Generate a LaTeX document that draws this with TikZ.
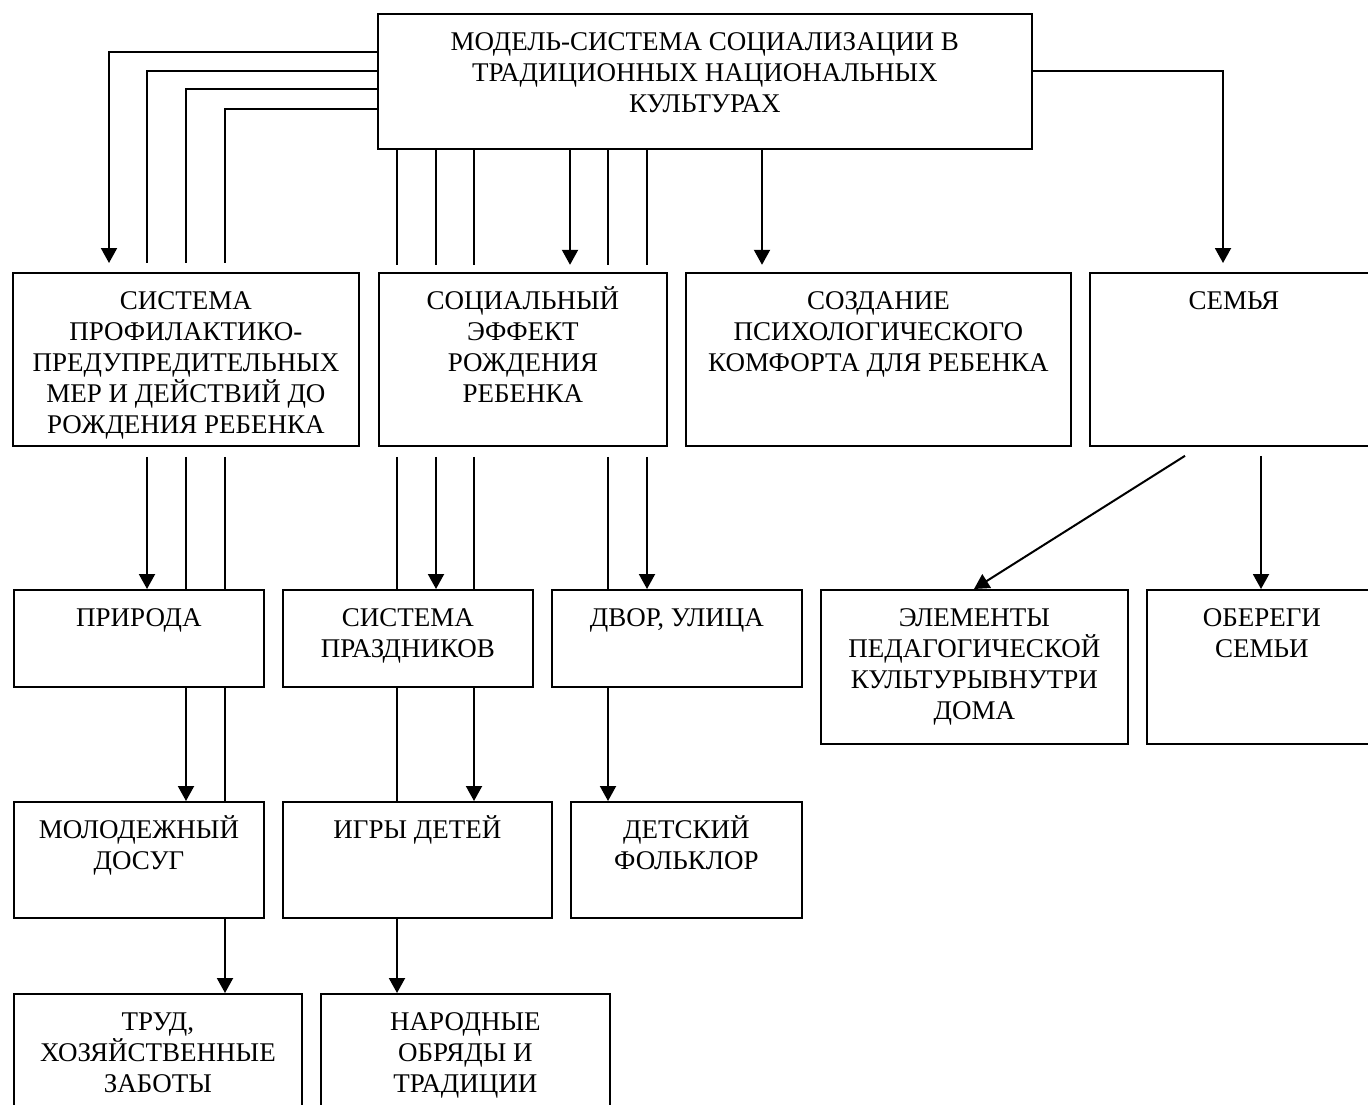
\documentclass[tikz,border=0pt]{standalone}
\usepackage{fontspec}
\setmainfont{Liberation Serif}
\usetikzlibrary{arrows.meta,calc}

\newcommand{\tekst}[3]{\parbox[t][#2][t]{#1}{\centering\rule{0pt}{18.5pt}#3}}

\begin{document}
\begin{tikzpicture}[x=1pt,y=-1pt,
  blok/.style={draw, line width=0.9pt, anchor=north west, inner sep=0pt,
    font=\fontsize{13.5pt}{15.4pt}\selectfont},
  liniya/.style={line width=1pt},
  strelka/.style={liniya, -{Triangle[length=7.5pt,width=8pt]}}]
\useasboundingbox (0,0) rectangle (684,552);
\clip (0,0) rectangle (684,552);

% top
\node[blok] (model) at (188.5,6.5) {\tekst{327pt}{67.5pt}{МОДЕЛЬ-СИСТЕМА СОЦИАЛИЗАЦИИ В\\ТРАДИЦИОННЫХ НАЦИОНАЛЬНЫХ\\КУЛЬТУРАХ}};

% first row
\node[blok] (profil) at (6,136) {\tekst{173pt}{86.5pt}{СИСТЕМА\\ПРОФИЛАКТИКО-\\ПРЕДУПРЕДИТЕЛЬНЫХ\\МЕР И ДЕЙСТВИЙ ДО\\РОЖДЕНИЯ РЕБЕНКА}};
\node[blok] (effekt) at (189,136) {\tekst{144pt}{86.5pt}{СОЦИАЛЬНЫЙ\\ЭФФЕКТ\\РОЖДЕНИЯ\\РЕБЕНКА}};
\node[blok] (komfort) at (342.5,136) {\tekst{192.5pt}{86.5pt}{СОЗДАНИЕ\\ПСИХОЛОГИЧЕСКОГО\\КОМФОРТА ДЛЯ РЕБЕНКА}};
\node[blok] (semya) at (544.5,136) {\tekst{144pt}{86.5pt}{СЕМЬЯ}};

% second row
\node[blok] (priroda) at (6.5,294.5) {\tekst{125pt}{48.5pt}{ПРИРОДА}};
\node[blok] (prazdniki) at (141,294.5) {\tekst{125pt}{48.5pt}{СИСТЕМА\\ПРАЗДНИКОВ}};
\node[blok] (dvor) at (275.5,294.5) {\tekst{125pt}{48.5pt}{ДВОР, УЛИЦА}};
\node[blok] (elementy) at (410,294.5) {\tekst{153.5pt}{77pt}{ЭЛЕМЕНТЫ\\ПЕДАГОГИЧЕСКОЙ\\КУЛЬТУРЫВНУТРИ\\ДОМА}};
\node[blok] (oberegi) at (573,294.5) {\tekst{115pt}{77pt}{ОБЕРЕГИ\\СЕМЬИ}};

% third row
\node[blok] (dosug) at (6.5,400.5) {\tekst{125pt}{58pt}{МОЛОДЕЖНЫЙ\\ДОСУГ}};
\node[blok] (igry) at (141,400.5) {\tekst{134.5pt}{58pt}{ИГРЫ ДЕТЕЙ}};
\node[blok] (folklor) at (285,400.5) {\tekst{115.5pt}{58pt}{ДЕТСКИЙ\\ФОЛЬКЛОР}};

% fourth row
\node[blok] (trud) at (6.5,496.5) {\tekst{144pt}{70pt}{ТРУД,\\ХОЗЯЙСТВЕННЫЕ\\ЗАБОТЫ}};
\node[blok] (obryady) at (160,496.5) {\tekst{144.5pt}{70pt}{НАРОДНЫЕ\\ОБРЯДЫ И\\ТРАДИЦИИ}};

% from the top box
\draw[strelka] ($(model.north west)+(0,19.5)$) -| ($(profil.north west)+(48.5,-4.5)$);
\draw[liniya] ($(model.north west)+(0,29)$) -| ($(profil.north west)+(67.5,-4.5)$);
\draw[liniya] ($(model.north west)+(0,38)$) -| ($(profil.north west)+(87,-4.5)$);
\draw[liniya] ($(model.north west)+(0,48)$) -| ($(profil.north west)+(106.5,-4.5)$);
\draw[liniya] ($(model.south west)+(10,0)$) -- +(0,57.5);
\draw[liniya] ($(model.south west)+(29.5,0)$) -- +(0,57.5);
\draw[liniya] ($(model.south west)+(48.5,0)$) -- +(0,57.5);
\draw[strelka] ($(model.south west)+(96.5,0)$) -- +(0,57.5);
\draw[liniya] ($(model.south west)+(115.5,0)$) -- +(0,57.5);
\draw[liniya] ($(model.south west)+(135,0)$) -- +(0,57.5);
\draw[strelka] ($(model.south west)+(192.5,0)$) -- +(0,57.5);
\draw[strelka] ($(model.north east)+(0,29)$) -| ($(semya.north west)+(67,-4.5)$);

% first row to second row
\draw[strelka] ($(profil.south west)+(67.5,5)$) coordinate (p1) -- (p1 |- priroda.north);
\draw[liniya] ($(profil.south west)+(87,5)$) coordinate (p2) -- (p2 |- priroda.north);
\draw[liniya] ($(profil.south west)+(106.5,5)$) coordinate (p3) -- (p3 |- priroda.north);
\draw[liniya] ($(effekt.south west)+(9.5,5)$) coordinate (e1) -- (e1 |- prazdniki.north);
\draw[strelka] ($(effekt.south west)+(29,5)$) coordinate (e2) -- (e2 |- prazdniki.north);
\draw[liniya] ($(effekt.south west)+(48,5)$) coordinate (e3) -- (e3 |- prazdniki.north);
\draw[liniya] ($(effekt.south west)+(115,5)$) coordinate (e4) -- (e4 |- dvor.north);
\draw[strelka] ($(effekt.south west)+(134.5,5)$) coordinate (e5) -- (e5 |- dvor.north);
\draw[strelka] ($(semya.south west)+(48,4.5)$) -- ($(elementy.north west)+(77,0)$);
\draw[strelka] ($(semya.south west)+(86,4.5)$) coordinate (s1) -- (s1 |- oberegi.north);

% second row to third row
\draw[strelka] (p2 |- priroda.south) -- (p2 |- dosug.north);
\draw[liniya] (p3 |- priroda.south) -- (p3 |- dosug.north);
\draw[liniya] (e1 |- prazdniki.south) -- (e1 |- igry.north);
\draw[strelka] (e3 |- prazdniki.south) -- (e3 |- igry.north);
\draw[strelka] (e4 |- dvor.south) -- (e4 |- folklor.north);

% third row to fourth row
\draw[strelka] (p3 |- dosug.south) -- (p3 |- trud.north);
\draw[strelka] (e1 |- igry.south) -- (e1 |- obryady.north);
\end{tikzpicture}
\end{document}
